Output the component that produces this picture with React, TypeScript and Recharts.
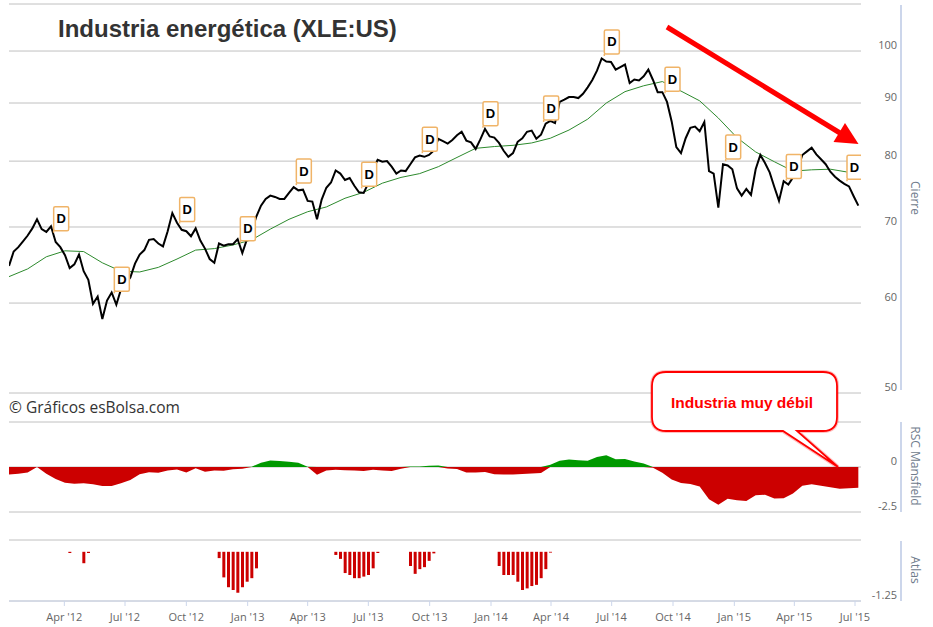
import React from 'react';
import {
  ComposedChart,
  BarChart,
  Line,
  Area,
  Bar,
  Scatter,
  XAxis,
  YAxis,
  CartesianGrid,
} from 'recharts';

const DAY = 86400000;
const T0 = Date.UTC(2012, 0, 9);
const T1 = Date.UTC(2015, 6, 10);
const weekTime = (w: number) => T0 + w * 7 * DAY;
const toTime = (s: string) => Date.parse(s + 'T00:00:00Z');

// weekly close, XLE
const priceValues = [
  64.7, 66.6, 67.2, 68.0, 68.8, 69.8, 71.1, 69.7, 69.3, 70.1,
  67.9, 67.2, 66.1, 64.4, 64.9, 66.2, 64.0, 62.9, 59.9, 60.8,
  58.1, 60.3, 61.3, 59.8, 61.7, 62.4, 63.2, 65.0, 66.2, 66.8,
  68.2, 68.3, 67.7, 67.3, 69.4, 72.0, 70.6, 69.6, 69.4, 68.7,
  69.8, 68.1, 67.0, 65.6, 65.1, 67.7, 67.4, 67.6, 67.6, 68.3,
  66.4, 68.3, 69.4, 71.5, 73.1, 74.1, 74.6, 74.4, 74.1, 74.1,
  75.0, 75.9, 75.4, 75.5, 73.8, 73.7, 71.1, 74.0, 75.8, 76.6,
  78.5, 78.0, 77.0, 77.3, 76.1, 75.1, 75.0, 76.5, 78.7, 80.2,
  79.9, 80.0, 79.1, 78.0, 78.5, 78.4, 79.5, 80.6, 80.9, 80.7,
  81.0, 81.7, 83.7, 83.3, 82.9, 83.5, 84.3, 84.9, 83.4, 83.1,
  82.0, 83.6, 85.4, 84.1, 83.9, 83.0, 81.7, 80.7, 81.3, 83.2,
  83.8, 84.9, 85.1, 83.7, 84.4, 86.3, 86.8, 86.4, 90.2, 90.6,
  91.1, 91.1, 90.9, 91.7, 92.9, 94.3, 96.1, 98.5, 97.9, 97.8,
  96.3, 96.8, 97.3, 93.7, 94.4, 94.2, 95.0, 96.3, 94.3, 92.0,
  92.0, 90.2, 86.7, 82.3, 81.3, 83.8, 85.6, 85.8, 85.0, 86.6,
  78.4, 78.0, 72.8, 79.5, 79.3, 78.7, 75.7, 74.6, 75.6, 74.7,
  78.7, 81.0, 79.7, 78.2, 75.9, 73.8, 76.8, 76.3, 77.4, 78.7,
  81.0, 81.6, 82.2, 81.1, 80.3, 79.5, 78.3, 77.5, 76.9, 76.4,
  76.0, 74.5, 73.1,
];

// moving average, read every 4 weeks
const maValues = [
  63.3, 64.3, 65.9, 66.7, 66.6, 65.1, 64.0, 63.9, 64.5, 65.6,
  66.8, 67.0, 67.5, 68.2, 69.7, 71.1, 72.2, 72.9, 74.2, 75.1,
  76.5, 77.4, 78.0, 79.1, 80.6, 82.1, 82.4, 82.6, 83.0, 83.8,
  85.2, 87.1, 90.0, 92.1, 93.2, 94.0, 92.2, 90.4, 87.3, 83.9,
  81.5, 79.9, 78.4, 78.6, 78.7, 78.2,
];

// RSC Mansfield, read every 2 weeks
const rscValues = [
  -0.41, -0.38, -0.31, 0.0, -0.37, -0.66, -0.88, -0.93, -0.9, -0.96,
  -1.06, -1.06, -0.9, -0.72, -0.4, -0.29, -0.32, -0.2, -0.14, -0.31,
  -0.07, -0.27, -0.19, -0.21, -0.13, -0.1, 0.02, 0.24, 0.36, 0.33,
  0.29, 0.23, 0.02, -0.43, -0.19, -0.15, -0.18, -0.2, -0.22, -0.15,
  -0.2, -0.22, -0.1, 0.03, 0.03, 0.07, 0.08, -0.09, -0.11, -0.31,
  -0.31, -0.28, -0.4, -0.42, -0.42, -0.39, -0.36, -0.33, 0.12, 0.35,
  0.42, 0.37, 0.35, 0.55, 0.65, 0.43, 0.45, 0.31, 0.2, -0.04,
  -0.32, -0.7, -0.89, -0.94, -1.09, -1.79, -2.1, -1.76, -1.85, -1.89,
  -1.57, -1.54, -1.75, -1.74, -1.47, -1.04, -0.96, -1.04, -1.13, -1.21,
  -1.18, -1.15,
];

const atlasWeeks = [
  13, 16, 17,
  45, 46, 47, 48, 49, 50, 51, 52, 53,
  70, 71, 72, 73, 74, 75, 76, 77, 78, 79,
  86, 87, 88, 89, 90, 91,
  105, 106, 107, 108, 109, 110, 111, 112, 113, 114, 115, 116,
];
const atlasValues = [
  -0.03, -0.29, -0.03,
  -0.16, -0.65, -0.9, -0.97, -1.04, -0.9, -0.76, -0.67, -0.42,
  -0.08, -0.18, -0.54, -0.59, -0.67, -0.67, -0.63, -0.59, -0.42, -0.03,
  -0.36, -0.56, -0.44, -0.39, -0.23, -0.04,
  -0.36, -0.59, -0.59, -0.59, -0.76, -0.97, -0.93, -0.87, -0.84, -0.67, -0.44, -0.02,
];

// dividend flags
const flagDates = [
  '2012-03-16', '2012-06-15', '2012-09-21', '2012-12-21', '2013-03-15',
  '2013-06-21', '2013-09-20', '2013-12-20', '2014-03-21', '2014-06-20',
  '2014-09-19', '2014-12-19', '2015-03-20', '2015-06-19',
];
const flagPrices = [
  69.2, 61.2, 70.5, 67.8, 76.2, 75.7, 81.3, 85.6, 86.6, 99.0, 91.8, 80.0, 76.9, 76.8,
];

const quarterTicks = [
  '2012-04-01', '2012-07-01', '2012-10-01', '2013-01-01', '2013-04-01',
  '2013-07-01', '2013-10-01', '2014-01-01', '2014-04-01', '2014-07-01',
  '2014-10-01', '2015-01-01', '2015-04-01', '2015-07-01',
].map(toTime);
const priceTicks = [50, 60, 70, 80, 90, 100, 110];
const rscTicks = [-2.5, 0, 2.5];
const atlasTicks = [-1.25, 0.3];

const MONTHS = ['Jan', 'Feb', 'Mar', 'Apr', 'May', 'Jun', 'Jul', 'Aug', 'Sep', 'Oct', 'Nov', 'Dec'];
const fmtQuarter = (t: number) => {
  const d = new Date(t);
  return `${MONTHS[d.getUTCMonth()]} '${String(d.getUTCFullYear()).slice(2)}`;
};

const priceRows = priceValues.map((price, i) => ({ t: weekTime(i), price }));
const maRows = maValues.map((ma, k) => ({ t: weekTime(k * 4), ma }));
const rscRows = rscValues.map((v, k) => ({
  t: weekTime(k * 2),
  pos: Math.max(v, 0),
  neg: Math.min(v, 0),
}));
const atlasRows = atlasWeeks.map((w, j) => ({ t: weekTime(w), v: atlasValues[j] }));
const flagRows = flagDates.map((d, j) => ({ t: toTime(d), p: flagPrices[j] }));

const SANS = '"Open Sans", "Liberation Sans", Arial, sans-serif';
const ARIAL = '"Liberation Sans", Arial, sans-serif';
const GRID = '#c0c0c0';
const AXIS = '#ccd6eb';
const MARGIN = { top: 0, right: 0, bottom: 0, left: 9 };

const rightTick = (hidden: number[]) => (p: any) => {
  if (hidden.includes(p.payload.value)) return <g />;
  return (
    <text x={897} y={p.y - 2} textAnchor="end" fontSize={11} fontFamily={SANS} fill="#666">
      {p.payload.value}
    </text>
  );
};

const FlagShape = (props: any) => {
  const { cx, cy } = props;
  if (cx == null || cy == null) return <g />;
  const w = 15;
  const h = 24;
  const gap = 2;
  return (
    <g>
      <line x1={cx} y1={cy} x2={cx} y2={cy - gap} stroke="#f0b468" strokeWidth={1.5} />
      <rect x={cx} y={cy - gap - h} width={w} height={h} rx={1.5} fill="#fff" stroke="#f0b468" strokeWidth={1.5} />
      <text x={cx + w / 2} y={cy - gap - h / 2 + 4.5} textAnchor="middle" fontSize={13} fontWeight="bold" fontFamily={ARIAL} fill="#000">
        D
      </text>
    </g>
  );
};

function Overlay() {
  return (
    <svg width={933} height={627} style={{ position: 'absolute', left: 0, top: 0, pointerEvents: 'none' }}>
      <text x={58} y={36.5} fontSize={24} fontWeight="bold" fontFamily={ARIAL} fill="#333">
        Industria energética (XLE:US)
      </text>
      <text x={9} y={412.5} fontSize={15.5} fontFamily={SANS} fill="#333">
        © Gráficos esBolsa.com
      </text>

      <line x1={901} y1={5} x2={901} y2={390} stroke={AXIS} strokeWidth={2} />
      <line x1={901} y1={422} x2={901} y2={512} stroke={AXIS} strokeWidth={2} />
      <line x1={901} y1={541} x2={901} y2={601} stroke={AXIS} strokeWidth={2} />
      <text transform="translate(910.5,198) rotate(90)" textAnchor="middle" fontSize={12} fontFamily={SANS} fill="#707c8c">
        Cierre
      </text>
      <text transform="translate(910.5,466) rotate(90)" textAnchor="middle" fontSize={12} fontFamily={SANS} fill="#707c8c">
        RSC Mansfield
      </text>
      <text transform="translate(910.5,570) rotate(90)" textAnchor="middle" fontSize={12} fontFamily={SANS} fill="#707c8c">
        Atlas
      </text>

      <line x1={667} y1={27} x2={840} y2={133} stroke="#ff0000" strokeWidth={5} />
      <polygon points="858.5,144 833.5,142 845,123" fill="#ff0000" />

      <path
        d="M 666 372 H 823 Q 837 372 837 386 V 417 Q 837 431 823 431 H 797 L 838 467 L 783 431 H 666 Q 652 431 652 417 V 386 Q 652 372 666 372 Z"
        fill="#fff"
        stroke="rgba(255,0,0,0.25)"
        strokeWidth={4}
      />
      <path
        d="M 666 372 H 823 Q 837 372 837 386 V 417 Q 837 431 823 431 H 797 L 838 467 L 783 431 H 666 Q 652 431 652 417 V 386 Q 652 372 666 372 Z"
        fill="#fff"
        stroke="#ff0000"
        strokeWidth={1.8}
      />
      <text x={742} y={408} textAnchor="middle" fontSize={15.5} fontWeight="bold" fontFamily={ARIAL} fill="#ff0000">
        Industria muy débil
      </text>
    </svg>
  );
}

export default function App() {
  return (
    <div style={{ position: 'absolute', left: 0, top: 0, width: 933, height: 627, background: '#fff' }}>
      <div style={{ position: 'absolute', left: 0, top: 0 }}>
        <ComposedChart width={933} height={400} data={priceRows} margin={{ ...MARGIN, top: 4, bottom: 7 }}>
          <CartesianGrid vertical={false} stroke={GRID} />
          <XAxis type="number" dataKey="t" domain={[T0, T1]} allowDataOverflow hide />
          <YAxis
            orientation="right"
            width={72}
            scale="log"
            domain={[50, 110]}
            ticks={priceTicks}
            interval={0}
            allowDataOverflow
            axisLine={false}
            tickLine={false}
            tick={rightTick([110])}
          />
          <Line data={maRows} dataKey="ma" stroke="#2d8a2d" strokeWidth={1} dot={false} isAnimationActive={false} />
          <Line dataKey="price" stroke="#000" strokeWidth={2} dot={false} isAnimationActive={false} />
          <Scatter data={flagRows} dataKey="p" shape={FlagShape} isAnimationActive={false} />
        </ComposedChart>
      </div>

      <div style={{ position: 'absolute', left: 0, top: 412 }}>
        <ComposedChart width={933} height={110} data={rscRows} margin={{ ...MARGIN, top: 10, bottom: 10 }}>
          <CartesianGrid vertical={false} stroke={GRID} />
          <XAxis type="number" dataKey="t" domain={[T0, T1]} allowDataOverflow hide />
          <YAxis
            orientation="right"
            width={72}
            domain={[-2.5, 2.5]}
            ticks={rscTicks}
            interval={0}
            allowDataOverflow
            axisLine={false}
            tickLine={false}
            tick={rightTick([2.5])}
          />
          <Area dataKey="pos" baseValue={0} fill="#009900" fillOpacity={1} stroke="none" isAnimationActive={false} />
          <Area dataKey="neg" baseValue={0} fill="#cc0000" fillOpacity={1} stroke="none" isAnimationActive={false} />
        </ComposedChart>
      </div>

      <div style={{ position: 'absolute', left: 0, top: 530 }}>
        <BarChart width={933} height={100} data={atlasRows} margin={{ ...MARGIN, top: 10, bottom: 0 }}>
          <CartesianGrid vertical={false} stroke={GRID} />
          <XAxis
            type="number"
            dataKey="t"
            domain={[T0, T1]}
            allowDataOverflow
            ticks={quarterTicks}
            interval={0}
            tickFormatter={fmtQuarter}
            height={29}
            axisLine={{ stroke: AXIS }}
            tickLine={{ stroke: AXIS }}
            tickSize={5}
            tickMargin={7}
            tick={{ fill: '#666', fontSize: 11, fontFamily: SANS }}
          />
          <YAxis
            orientation="right"
            width={72}
            domain={[-1.25, 0.3]}
            ticks={atlasTicks}
            interval={0}
            allowDataOverflow
            axisLine={false}
            tickLine={false}
            tick={rightTick([0.3])}
          />
          <Bar dataKey="v" fill="#cc0000" barSize={3} isAnimationActive={false} />
        </BarChart>
      </div>

      <Overlay />
    </div>
  );
}
